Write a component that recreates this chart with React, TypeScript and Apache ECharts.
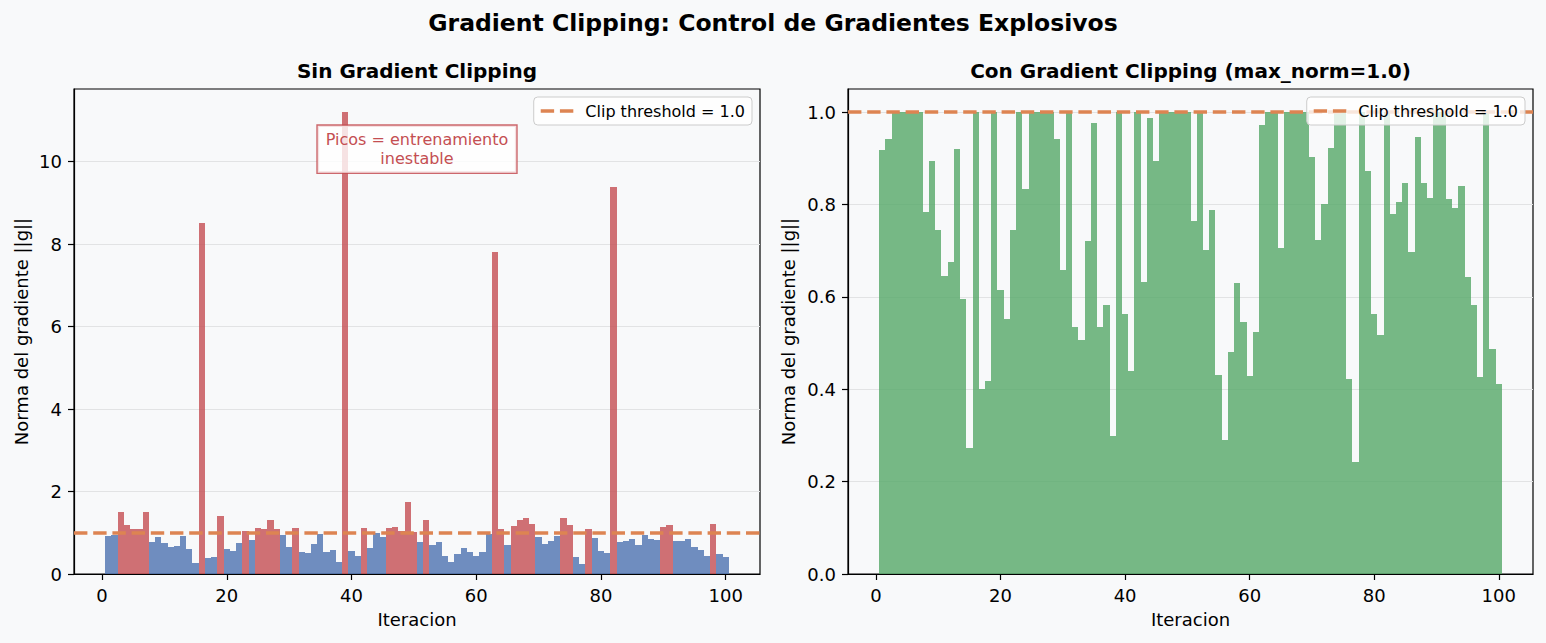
import * as echarts from "echarts";
import { useEffect, useRef } from "react";

// iteration index of every bar
const iterations = Array.from({ length: 100 }, (_, i) => i + 1);

// gradient norm without clipping (left panel)
const rawNorms = [
  0.918, 0.942, 1.51, 1.19, 1.09, 1.09, 1.51, 0.784, 0.894, 0.745,
  0.646, 0.675, 0.92, 0.595, 0.273, 8.52, 0.4, 0.418, 1.41, 0.615,
  0.552, 0.745, 1.04, 0.833, 1.12, 1.09, 1.31, 1.09, 0.942, 0.658,
  1.12, 0.535, 0.507, 0.721, 0.976, 0.535, 0.582, 0.299, 11.2, 0.563,
  0.439, 1.12, 0.632, 0.987, 0.894, 1.12, 1.14, 1.04, 1.75, 1.02,
  0.764, 1.31, 0.701, 0.788, 0.431, 0.291, 0.48, 0.63, 0.545, 0.429,
  0.524, 0.972, 7.8, 1.09, 0.706, 1.16, 1.31, 1.36, 1.21, 0.903,
  0.723, 0.802, 0.922, 1.36, 1.19, 0.422, 0.243, 1.09, 0.872, 0.563,
  0.517, 9.39, 0.779, 0.805, 0.846, 0.697, 0.946, 0.846, 0.814, 1.14,
  1.19, 0.812, 0.792, 0.84, 0.643, 0.582, 0.426, 1.21, 0.487, 0.411,
];

// gradient norm after clipping (right panel)
const clippedNorms = [
  0.918, 0.942, 1, 1, 1, 1, 1, 0.784, 0.894, 0.745,
  0.646, 0.675, 0.92, 0.595, 0.273, 1, 0.4, 0.418, 1, 0.615,
  0.552, 0.745, 1, 0.833, 1, 1, 1, 1, 0.942, 0.658,
  1, 0.535, 0.507, 0.721, 0.976, 0.535, 0.582, 0.299, 1, 0.563,
  0.439, 1, 0.632, 0.987, 0.894, 1, 1, 1, 1, 1,
  0.764, 1, 0.701, 0.788, 0.431, 0.291, 0.48, 0.63, 0.545, 0.429,
  0.524, 0.972, 1, 1, 0.706, 1, 1, 1, 1, 0.903,
  0.723, 0.802, 0.922, 1, 1, 0.422, 0.243, 1, 0.872, 0.563,
  0.517, 1, 0.779, 0.805, 0.846, 0.697, 0.946, 0.846, 0.814, 1,
  1, 0.812, 0.792, 0.84, 0.643, 0.582, 0.426, 1, 0.487, 0.411,
];

const CLIP = 1.0;
const xTicks = [0, 20, 40, 60, 80, 100];
const leftYTicks = [0, 2, 4, 6, 8, 10];
const rightYTicks = [0, 0.2, 0.4, 0.6, 0.8, 1.0];
const annotPos = [50.5, 10.3];

const SUPTITLE = "Gradient Clipping: Control de Gradientes Explosivos";
const TITLE_L = "Sin Gradient Clipping";
const TITLE_R = "Con Gradient Clipping (max_norm=1.0)";
const LEGEND_NAME = "Clip threshold = 1.0";
const ANNOT = "Picos = entrenamiento\ninestable";

const BG = "#f8f9fa";
const FONT = "DejaVu Sans";
const BLUE = "rgba(76,114,176,0.8)";
const RED = "rgba(196,78,82,0.8)";
const GREEN = "rgba(85,168,104,0.8)";
const ORANGE = "#dd8452";

const App = () => {
  const chartRef = useRef<HTMLDivElement>(null);

  useEffect(() => {
    document.body.style.margin = "0";
    document.body.style.background = BG;
    if (!chartRef.current) return;
    const myChart = echarts.init(chartRef.current, null, { renderer: "svg" });

    // bars of width 1 centred on the iteration; edges snapped to whole pixels so neighbours don't show seams
    const barRender = (colorFn: (v: number) => string) => (params: any, api: any) => {
      const x = api.value(0);
      const y = api.value(1);
      const p0 = api.coord([x - 0.5, y]);
      const p1 = api.coord([x + 0.5, 0]);
      const x0 = Math.round(p0[0]);
      const x1 = Math.round(p1[0]);
      const y0 = Math.round(p0[1]);
      const y1 = Math.round(p1[1]);
      return {
        type: "rect",
        shape: { x: x0, y: y0, width: x1 - x0, height: y1 - y0 },
        style: { fill: colorFn(y) },
      };
    };

    const axisText = { color: "#000", fontSize: 18, fontFamily: FONT };

    const xAxisBase = (gridIndex: number) => ({
      type: "value",
      gridIndex,
      min: -4.5,
      max: 105.5,
      name: "Iteracion",
      nameLocation: "middle",
      nameGap: 36,
      nameTextStyle: axisText,
      axisLine: { show: true, onZero: false, lineStyle: { color: "#000", width: 1.2 } },
      axisTick: { show: true, length: 6, customValues: xTicks, lineStyle: { color: "#000", width: 1.2 } },
      axisLabel: { ...axisText, margin: 12, customValues: xTicks },
      splitLine: { show: false },
    });

    const yAxisBase = (gridIndex: number, max: number, interval: number, ticks: number[], gap: number, fmt: (v: number) => string) => ({
      type: "value",
      gridIndex,
      min: 0,
      max,
      interval,
      name: "Norma del gradiente ||g||",
      nameLocation: "middle",
      nameGap: gap,
      nameTextStyle: axisText,
      axisLine: { show: true, onZero: false, lineStyle: { color: "#000", width: 1.2 } },
      axisTick: { show: true, length: 6, customValues: ticks, lineStyle: { color: "#000", width: 1.2 } },
      axisLabel: { ...axisText, margin: 12, customValues: ticks, formatter: fmt },
      splitLine: { show: true, lineStyle: { color: "#e2e3e4", width: 1.2 } },
    });

    const legendBase = (right: number) => ({
      data: [LEGEND_NAME],
      right,
      top: 97,
      z: 10,
      orient: "vertical",
      backgroundColor: "rgba(255,255,255,0.8)",
      borderColor: "#cccccc",
      borderWidth: 1,
      borderRadius: 4,
      padding: [5, 7, 5, 7],
      itemWidth: 32.6,
      itemHeight: 3.6,
      icon: "path://M0,0H13.4V3.6H0Z M19.2,0H32.6V3.6H19.2Z",
      itemStyle: { color: ORANGE },
      textStyle: { color: "#000", fontSize: 16, fontFamily: FONT, lineHeight: 18, padding: [0, 0, 0, 7] },
      selectedMode: false,
    });

    const threshold = (idx: number, withAnnot: boolean) => ({
      type: "line",
      name: LEGEND_NAME,
      xAxisIndex: idx,
      yAxisIndex: idx,
      data: [],
      color: ORANGE,
      itemStyle: { color: ORANGE },
      lineStyle: { color: ORANGE, width: 3.6, type: [13.4, 5.8] },
      z: 3,
      markLine: {
        silent: true,
        symbol: ["none", "none"],
        label: { show: false },
        lineStyle: { color: ORANGE, width: 3.6, type: [13.4, 5.8] },
        data: [{ yAxis: CLIP }],
      },
      markPoint: withAnnot
        ? {
            silent: true,
            data: [
              {
                coord: annotPos,
                symbol: "rect",
                symbolSize: 1,
                itemStyle: { color: "transparent" },
                label: {
                  show: true,
                  position: "inside",
                  formatter: () => ANNOT,
                  color: "#c44e52",
                  fontSize: 16,
                  fontFamily: FONT,
                  lineHeight: 19,
                  align: "center",
                  backgroundColor: "rgba(255,255,255,0.8)",
                  borderColor: "rgba(196,78,82,0.85)",
                  borderWidth: 1.4,
                  padding: [5, 8, 4, 8],
                },
              },
            ],
          }
        : undefined,
    });

    const leftMax = Math.max(...rawNorms) * 1.05;
    const rightMax = Math.max(...clippedNorms) * 1.05;

    const option = {
      animation: false,
      backgroundColor: BG,
      textStyle: { fontFamily: FONT },
      graphic: [
        {
          type: "text",
          x: 773,
          y: 23,
          style: { text: SUPTITLE, font: `bold 23.5px "${FONT}"`, fill: "#000", align: "center", verticalAlign: "middle" },
        },
        {
          type: "text",
          x: 417,
          y: 71,
          style: { text: TITLE_L, font: `bold 20px "${FONT}"`, fill: "#000", align: "center", verticalAlign: "middle" },
        },
        {
          type: "text",
          x: 1190.5,
          y: 71,
          style: { text: TITLE_R, font: `bold 20px "${FONT}"`, fill: "#000", align: "center", verticalAlign: "middle" },
        },
      ],
      grid: [
        { left: 74, top: 89, width: 686, height: 485, show: true, borderColor: "#000", borderWidth: 1.2, backgroundColor: "transparent" },
        { left: 848, top: 89, width: 685, height: 485, show: true, borderColor: "#000", borderWidth: 1.2, backgroundColor: "transparent" },
      ],
      xAxis: [xAxisBase(0), xAxisBase(1)],
      yAxis: [
        yAxisBase(0, leftMax, 2, leftYTicks, 44, (v: number) => String(v)),
        yAxisBase(1, rightMax, 0.2, rightYTicks, 51, (v: number) => v.toFixed(1)),
      ],
      legend: [legendBase(794), legendBase(21)],
      series: [
        {
          type: "custom",
          xAxisIndex: 0,
          yAxisIndex: 0,
          data: iterations.map((it, i) => [it, rawNorms[i]]),
          encode: { x: 0, y: 1 },
          renderItem: barRender((v) => (v > CLIP ? RED : BLUE)),
          z: 2,
        },
        {
          type: "custom",
          xAxisIndex: 1,
          yAxisIndex: 1,
          data: iterations.map((it, i) => [it, clippedNorms[i]]),
          encode: { x: 0, y: 1 },
          renderItem: barRender(() => GREEN),
          z: 2,
        },
        threshold(0, true),
        threshold(1, false),
      ],
    };

    myChart.setOption(option as any);

    return () => {
      myChart.dispose();
    };
  }, []);

  return <div ref={chartRef} style={{ width: 1546, height: 643 }} />;
};

export default App;
